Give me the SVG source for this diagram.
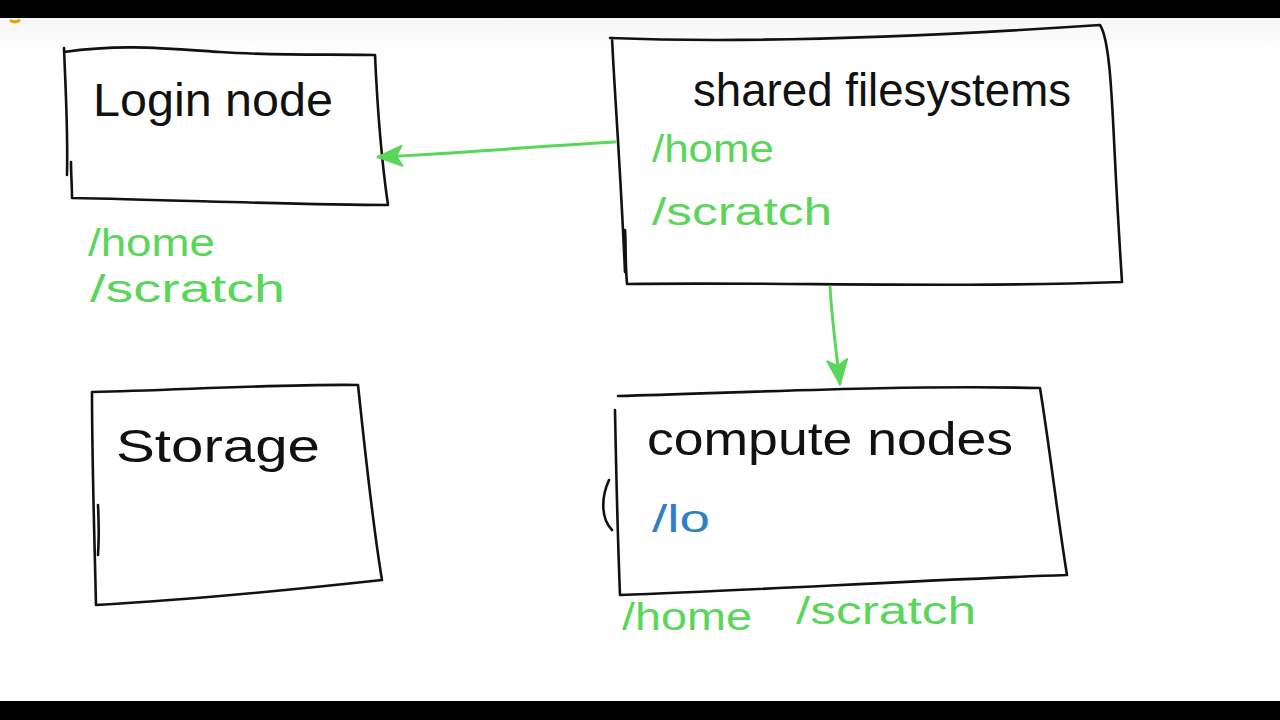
<svg xmlns="http://www.w3.org/2000/svg" width="1280" height="720" viewBox="0 0 1280 720">
<defs>
<style>
.box{fill:none;stroke:#111;stroke-width:2.6;stroke-linejoin:round;stroke-linecap:round}
.lbl{font-family:"Liberation Sans","DejaVu Sans",sans-serif;fill:#111;font-size:46px}
.g{font-family:"Liberation Sans","DejaVu Sans",sans-serif;fill:#5ad65a;font-size:38px}
.b{font-family:"Liberation Sans","DejaVu Sans",sans-serif;fill:#2f7fc8;font-size:38px}
.con{fill:none;stroke:#5ad65a;stroke-width:3;stroke-linecap:round}
</style>
<marker id="ah" viewBox="0 0 30 24" refX="28" refY="12" markerWidth="30" markerHeight="24" orient="auto" markerUnits="userSpaceOnUse">
<path d="M4,2 L28,12 L4,22 L10,12 Z" fill="#5ad65a" stroke="#5ad65a" stroke-width="2" stroke-linejoin="round"/>
</marker>
<linearGradient id="bg" x1="0" y1="0" x2="0" y2="1">
<stop offset="0" stop-color="#f2f2f2"/>
<stop offset="0.08" stop-color="#ffffff"/>
<stop offset="1" stop-color="#ffffff"/>
</linearGradient>
</defs>
<rect x="0" y="0" width="1280" height="720" fill="url(#bg)"/>
<rect x="0" y="0" width="1280" height="18" fill="#000"/>
<rect x="0" y="701" width="1280" height="19" fill="#000"/>
<path d="M10,20 q4,4 10,0" fill="#e0a800" stroke="#e0a800" stroke-width="3"/>

<g id="login-node">
<path class="box" d="M64,52 C120,44 160,48 220,52 C280,56 330,54 375,55 C377,100 380,150 388,205 C300,205 180,200 72,198 C72,185 71,175 71,162 M64,48 C66,100 68,130 67,175"/>
<text class="lbl" x="93" y="116" textLength="240" lengthAdjust="spacingAndGlyphs">Login node</text>
<text class="g" x="88" y="256" textLength="127" lengthAdjust="spacingAndGlyphs">/home</text>
<text class="g" x="90" y="302" textLength="195" lengthAdjust="spacingAndGlyphs">/scratch</text>
</g>

<g id="shared-filesystems">
<path class="box" d="M610,38 C760,44 950,35 1100,25 C1110,40 1112,100 1115,160 C1118,220 1120,250 1122,282 C950,288 780,282 627,284 C625,260 626,240 625,230 M612,38 C615,100 620,160 625,272"/>
<text class="lbl" x="693" y="106" textLength="378" lengthAdjust="spacingAndGlyphs">shared filesystems</text>
<text class="g" x="652" y="162" textLength="122" lengthAdjust="spacingAndGlyphs">/home</text>
<text class="g" x="652" y="225" textLength="180" lengthAdjust="spacingAndGlyphs">/scratch</text>
</g>

<g id="storage">
<path class="box" d="M92,392 C180,390 280,384 358,385 C365,450 372,520 382,580 C290,590 190,600 96,605 C94,520 92,460 92,392 M98,505 C99,525 99,540 98,555"/>
<text class="lbl" x="116" y="462" textLength="204" lengthAdjust="spacingAndGlyphs">Storage</text>
</g>

<g id="compute-nodes">
<path class="box" d="M618,396 C760,392 900,385 1040,388 C1050,450 1058,520 1067,575 C920,580 760,590 620,595 C617,520 616,460 615,410 M609,480 C600,500 602,520 612,530"/>
<text class="lbl" x="647" y="455" textLength="366" lengthAdjust="spacingAndGlyphs">compute nodes</text>
<text class="b" x="652" y="532" textLength="58" lengthAdjust="spacingAndGlyphs">/lo</text>
<text class="g" x="622" y="630" textLength="130" lengthAdjust="spacingAndGlyphs">/home</text>
<text class="g" x="796" y="624" textLength="180" lengthAdjust="spacingAndGlyphs">/scratch</text>
</g>

<g id="connectors">
<path class="con" d="M615,142 C540,146 480,152 378,157" marker-end="url(#ah)"/>
<path class="con" d="M830,287 C832,320 836,350 840,384" marker-end="url(#ah)"/>
</g>
</svg>
